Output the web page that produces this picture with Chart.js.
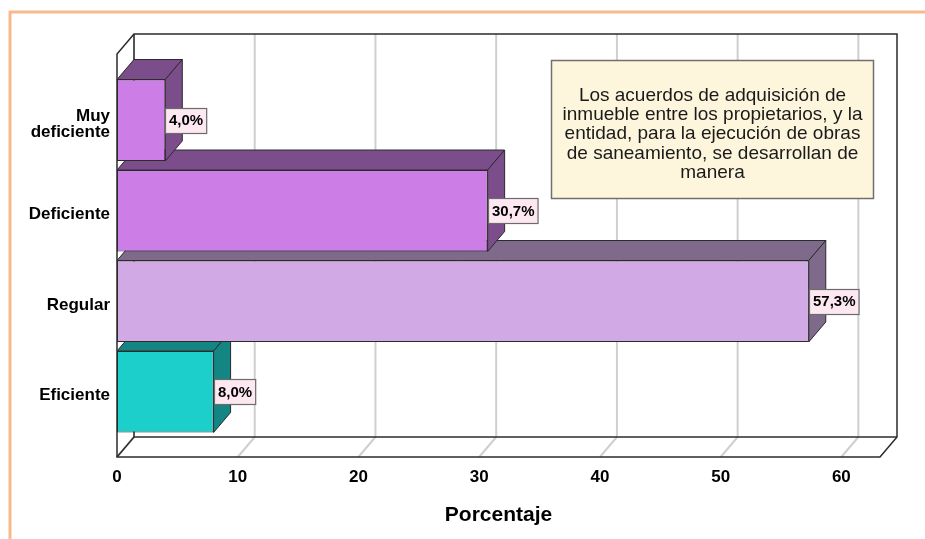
<!DOCTYPE html>
<html lang="es">
<head>
<meta charset="utf-8">
<title>Porcentaje</title>
<script src="https://cdn.jsdelivr.net/npm/chart.js@4.4.1/dist/chart.umd.min.js"></script>
<style>
  html, body { margin: 0; padding: 0; background: #fff; }
  #wrap { position: relative; width: 925px; height: 539px; }
</style>
</head>
<body>
<div id="wrap"><canvas id="myChart" width="925" height="539"></canvas></div>
<script>
const categories = [["Muy", "deficiente"], "Deficiente", "Regular", "Eficiente"];
const percentages = [4.0, 30.7, 57.3, 8.0];
const xTicks = [0, 10, 20, 30, 40, 50, 60];
const noteLines = [
  "Los acuerdos de adquisición de",
  "inmueble entre los propietarios, y la",
  "entidad, para la ejecución de obras",
  "de saneamiento, se desarrollan de",
  "manera",
];

const frontColors = ["#cc7ee6", "#cc7ee6", "#d0a9e5", "#1ccfcb"];
const depthColors = ["#7b4d8b", "#7b4d8b", "#806a8c", "#138683"];

const FONT = "'Liberation Sans', Arial, sans-serif";
const DX = 17;
const DY = 20;

const formatPct = (v) => v.toFixed(1).replace(".", ",") + "%";

const poly = (ctx, pts, fill, stroke) => {
  ctx.beginPath();
  ctx.moveTo(pts[0][0], pts[0][1]);
  for (let i = 1; i < pts.length; i++) ctx.lineTo(pts[i][0], pts[i][1]);
  ctx.closePath();
  if (fill) {
    ctx.fillStyle = fill;
    ctx.fill();
  }
  if (stroke) {
    ctx.strokeStyle = stroke;
    ctx.stroke();
  }
};

const line = (ctx, x1, y1, x2, y2) => {
  ctx.beginPath();
  ctx.moveTo(x1, y1);
  ctx.lineTo(x2, y2);
  ctx.stroke();
};

// box walls, grid and the top/side faces of each bar
const box3d = {
  id: "box3d",
  beforeDraw(chart) {
    const { ctx, width, height } = chart;
    ctx.save();
    ctx.fillStyle = "#fff";
    ctx.fillRect(0, 0, width, height);
    ctx.strokeStyle = "#f8b98c";
    ctx.lineWidth = 3;
    line(ctx, 9, 12, width, 12);
    line(ctx, 10, 11, 10, height);
    ctx.restore();
  },
  beforeDatasetsDraw(chart) {
    const { ctx, chartArea: a, scales } = chart;
    const x = scales.x;
    const left = x.getPixelForValue(0);
    const right = a.right;
    const backTop = a.top - 41;
    const backBottom = a.bottom;
    const floor = backBottom + DY;
    const frontTop = backTop + DY;

    ctx.save();
    ctx.strokeStyle = "#cfcfcf";
    ctx.lineWidth = 2;
    xTicks.forEach((v) => {
      const px = x.getPixelForValue(v);
      line(ctx, px + DX, backTop, px + DX, backBottom);
      line(ctx, px, floor, px + DX, backBottom);
    });

    ctx.strokeStyle = "#2b2b2b";
    ctx.lineWidth = 1.5;
    poly(ctx, [
      [left, floor], [left, frontTop], [left + DX, backTop],
      [right + DX, backTop], [right + DX, backBottom], [right, floor],
    ], null, "#2b2b2b");
    line(ctx, left + DX, backTop, left + DX, backBottom);
    line(ctx, left + DX, backBottom, right + DX, backBottom);
    line(ctx, left, floor, left + DX, backBottom);

    const meta = chart.getDatasetMeta(0);
    ctx.lineWidth = 1;
    for (let i = meta.data.length - 1; i >= 0; i--) {
      const bar = meta.data[i];
      const { x: xe, y, base, height } = bar.getProps(["x", "y", "base", "height"], true);
      const t = y - height / 2;
      const b = y + height / 2;
      poly(ctx, [[base, t], [xe, t], [xe + DX, t - DY], [base + DX, t - DY]], depthColors[i], "#2b2b2b");
      poly(ctx, [[xe, t], [xe + DX, t - DY], [xe + DX, b - DY], [xe, b]], depthColors[i], "#2b2b2b");
    }
    ctx.restore();
  },
  afterDatasetsDraw(chart) {
    const { ctx } = chart;
    const meta = chart.getDatasetMeta(0);
    ctx.save();

    // value boxes at the end of each bar
    ctx.font = `bold 15px ${FONT}`;
    ctx.textBaseline = "middle";
    ctx.textAlign = "left";
    meta.data.forEach((bar, i) => {
      const text = formatPct(percentages[i]);
      const w = ctx.measureText(text).width + 7;
      const h = 25;
      const bx = Math.round(bar.x) + 0.5;
      const by = Math.round(bar.y - h / 2) + 0.5;
      ctx.fillStyle = "#fde8f2";
      ctx.fillRect(bx, by, w, h);
      ctx.strokeStyle = "#6b6b6b";
      ctx.lineWidth = 1.2;
      ctx.strokeRect(bx, by, w, h);
      ctx.fillStyle = "#000";
      ctx.fillText(text, bx + 3.5, bar.y + 1);
    });

    // note box
    const nx = 551.5, ny = 60.5, nw = 322, nh = 138;
    ctx.fillStyle = "#fdf5dc";
    ctx.fillRect(nx, ny, nw, nh);
    ctx.strokeStyle = "#707070";
    ctx.lineWidth = 1.5;
    ctx.strokeRect(nx, ny, nw, nh);
    ctx.font = `19px ${FONT}`;
    ctx.fillStyle = "#1a1a1a";
    ctx.textAlign = "center";
    ctx.textBaseline = "alphabetic";
    noteLines.forEach((t, k) => {
      ctx.fillText(t, nx + nw / 2, 100.7 + k * 19.3);
    });
    ctx.restore();
  },
};

const ctx = document.getElementById("myChart").getContext("2d");
new Chart(ctx, {
  type: "bar",
  data: {
    labels: categories,
    datasets: [
      {
        data: percentages,
        backgroundColor: frontColors,
        borderColor: "#2b2b2b",
        borderWidth: 1,
        borderSkipped: false,
        barPercentage: 0.9,
        categoryPercentage: 1,
      },
    ],
  },
  options: {
    indexAxis: "y",
    responsive: false,
    animation: false,
    events: [],
    layout: { padding: { top: 75, right: 45, left: 0, bottom: 0 } },
    plugins: {
      legend: { display: false },
      tooltip: { enabled: false },
    },
    scales: {
      x: {
        min: 0,
        max: 63.2,
        afterBuildTicks: (scale) => {
          scale.ticks = xTicks.map((v) => ({ value: v }));
        },
        afterFit: (scale) => {
          scale.height = 102;
        },
        grid: { display: false, drawTicks: false },
        border: { display: false },
        ticks: {
          color: "#000",
          padding: 30,
          font: { family: FONT, size: 17, weight: "bold" },
        },
        title: {
          display: true,
          text: "Porcentaje",
          color: "#000",
          padding: { top: 0, bottom: 11 },
          font: { family: FONT, size: 21, weight: "bold" },
        },
      },
      y: {
        afterFit: (scale) => {
          scale.width = 117;
        },
        grid: { display: false, drawTicks: false },
        border: { display: false },
        ticks: {
          color: "#000",
          padding: 7,
          labelOffset: 4,
          font: { family: FONT, size: 17, weight: "bold", lineHeight: "16px" },
        },
      },
    },
  },
  plugins: [box3d],
});
</script>
</body>
</html>
